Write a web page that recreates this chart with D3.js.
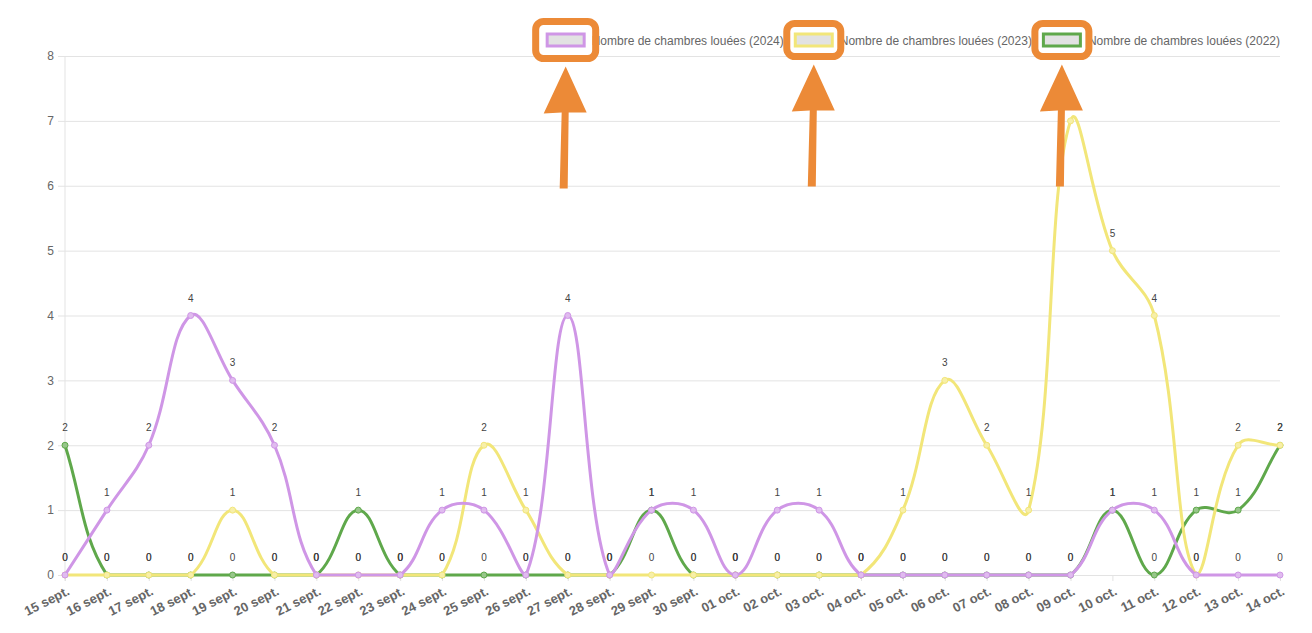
<!DOCTYPE html>
<html>
<head>
<meta charset="utf-8">
<script src="https://cdn.jsdelivr.net/npm/d3@7"></script>
<style>
  body { margin: 0; background: #fff; }
  svg { display: block; font-family: "Liberation Sans", Arial, sans-serif; }
</style>
</head>
<body>
<svg id="drawing_region"></svg>
<script>
const days = ["15 sept.", "16 sept.", "17 sept.", "18 sept.", "19 sept.", "20 sept.", "21 sept.", "22 sept.",
    "23 sept.", "24 sept.", "25 sept.", "26 sept.", "27 sept.", "28 sept.", "29 sept.", "30 sept.",
    "01 oct.", "02 oct.", "03 oct.", "04 oct.", "05 oct.", "06 oct.", "07 oct.", "08 oct.", "09 oct.",
    "10 oct.", "11 oct.", "12 oct.", "13 oct.", "14 oct."];
const rooms2024 = [0, 1, 2, 4, 3, 2, 0, 0, 0, 1, 1, 0, 4, 0, 1, 1, 0, 1, 1, 0, 0, 0, 0, 0, 0, 1, 1, 0, 0, 0];
const rooms2023 = [0, 0, 0, 0, 1, 0, 0, 0, 0, 0, 2, 1, 0, 0, 0, 0, 0, 0, 0, 0, 1, 3, 2, 1, 7, 5, 4, 0, 2, 2];
const rooms2022 = [2, 0, 0, 0, 0, 0, 0, 1, 0, 0, 0, 0, 0, 0, 1, 0, 0, 0, 0, 0, 0, 0, 0, 0, 0, 1, 0, 1, 1, 2];
const seriesNames = ["Nombre de chambres louées (2024)", "Nombre de chambres louées (2023)", "Nombre de chambres louées (2022)"];
const seriesColors = ["#cf96e6", "#f2e679", "#5fa84b"];
const yTicks = [0, 1, 2, 3, 4, 5, 6, 7, 8];

const series = [rooms2024, rooms2023, rooms2022].map((values, i) => ({
    name: seriesNames[i], color: seriesColors[i], values: values
}));

const config = {
    width: 1312, height: 633,
    margin: {top: 56, right: 32, bottom: 58, left: 65}
};

const svg = d3.select('#drawing_region')
    .attr('width', config.width)
    .attr('height', config.height);

const areaLeft = config.margin.left;
const areaRight = config.width - config.margin.right;
const areaTop = config.margin.top;

const xscale = d3.scalePoint().domain(days).range([areaLeft, areaRight]);
const yscale = d3.scaleLinear().domain([0, 8]).range([575, areaTop]);
const areaBottom = yscale(0);

// grid + y axis
const yaxis = d3.axisLeft(yscale)
    .tickValues(yTicks)
    .tickSize(-(areaRight - areaLeft))
    .tickPadding(11);
const yg = svg.append('g')
    .attr('transform', `translate(${areaLeft},0)`)
    .call(yaxis);
yg.select('.domain').remove();
yg.selectAll('.tick line').attr('stroke', '#e3e3e3').attr('x1', -7);
yg.selectAll('.tick text').attr('fill', '#666').attr('font-size', 12);

svg.append('line')
    .attr('x1', areaLeft).attr('x2', areaLeft)
    .attr('y1', areaTop).attr('y2', areaBottom + 6)
    .attr('stroke', '#e3e3e3');

// x axis labels (rotated)
const xaxis = d3.axisBottom(xscale).tickSize(6).tickPadding(4);
const xg = svg.append('g')
    .attr('transform', `translate(0,${areaBottom})`)
    .call(xaxis);
xg.select('.domain').remove();
xg.selectAll('.tick line').attr('stroke', '#e3e3e3');
xg.selectAll('.tick text')
    .attr('fill', '#666')
    .attr('font-size', 13)
    .attr('font-weight', 'bold')
    .attr('text-anchor', 'end')
    .attr('y', 0)
    .attr('dy', 0)
    .attr('transform', 'translate(5,19) rotate(-27)');

// Chart.js like spline with tension 0.4, control points capped to chart area
function splinePath(values) {
    const pts = values.map((v, i) => [xscale(days[i]), yscale(v)]);
    const t = 0.4;
    const cap = p => [Math.max(areaLeft, Math.min(areaRight, p[0])), Math.max(areaTop, Math.min(areaBottom, p[1]))];
    const ctrl = pts.map((p, i) => {
        const prev = pts[Math.max(0, i - 1)];
        const next = pts[Math.min(pts.length - 1, i + 1)];
        const d01 = Math.hypot(p[0] - prev[0], p[1] - prev[1]);
        const d12 = Math.hypot(next[0] - p[0], next[1] - p[1]);
        let s01 = d01 / (d01 + d12), s12 = d12 / (d01 + d12);
        if (isNaN(s01)) s01 = 0;
        if (isNaN(s12)) s12 = 0;
        const fa = t * s01, fb = t * s12;
        return {
            prev: cap([p[0] - fa * (next[0] - prev[0]), p[1] - fa * (next[1] - prev[1])]),
            next: cap([p[0] + fb * (next[0] - prev[0]), p[1] + fb * (next[1] - prev[1])])
        };
    });
    const path = d3.path();
    path.moveTo(pts[0][0], pts[0][1]);
    for (let i = 1; i < pts.length; i++) {
        const c1 = ctrl[i - 1].next, c2 = ctrl[i].prev;
        path.bezierCurveTo(c1[0], c1[1], c2[0], c2[1], pts[i][0], pts[i][1]);
    }
    return path.toString();
}

// draw from last dataset to first, so 2024 is on top
series.slice().reverse().forEach(s => {
    const g = svg.append('g');
    g.append('path')
        .attr('d', splinePath(s.values))
        .attr('fill', 'none')
        .attr('stroke', s.color)
        .attr('stroke-width', 3);
    g.selectAll('circle')
        .data(s.values)
        .enter()
        .append('circle')
        .attr('cx', (d, i) => xscale(days[i]))
        .attr('cy', d => yscale(d))
        .attr('r', 3)
        .attr('fill', d3.interpolateRgb(s.color, '#fff')(0.35))
        .attr('stroke', s.color)
        .attr('stroke-width', 1);
});

// value labels
series.forEach(s => {
    svg.append('g').selectAll('text')
        .data(s.values)
        .enter()
        .append('text')
        .attr('x', (d, i) => xscale(days[i]))
        .attr('y', d => yscale(d) - 14)
        .attr('text-anchor', 'middle')
        .attr('font-size', 10)
        .attr('fill', '#444')
        .text(d => d);
});

// legend, aligned to the right
const legend = svg.append('g');
const widths = seriesNames.map(name => {
    const tmp = legend.append('text').attr('font-size', 12).text(name);
    const w = tmp.node().getComputedTextLength();
    tmp.remove();
    return w;
});
let lx = areaRight;
const boxes = [];
for (let i = series.length - 1; i >= 0; i--) {
    const itemW = 40 + 6 + widths[i];
    lx -= itemW;
    boxes[i] = lx;
    const it = legend.append('g').attr('transform', `translate(${lx},34)`);
    it.append('rect')
        .attr('x', 1.5).attr('y', 0)
        .attr('width', 37).attr('height', 12)
        .attr('fill', '#e2e2e2')
        .attr('stroke', series[i].color)
        .attr('stroke-width', 3);
    it.append('text')
        .attr('x', 46).attr('y', 10.5)
        .attr('font-size', 12)
        .attr('fill', '#666')
        .text(series[i].name);
    lx -= 10;
}

// orange highlight boxes and arrows
const orange = '#ec8a37';
boxes.forEach((bx, i) => {
    const cx = bx + 20;
    const w = i === 0 ? 60 : 54, h = i === 0 ? 37 : 33;
    svg.append('rect')
        .attr('x', cx - w / 2).attr('y', 40 - h / 2)
        .attr('width', w).attr('height', h)
        .attr('rx', 8)
        .attr('fill', 'none')
        .attr('stroke', orange)
        .attr('stroke-width', 7);
    const tipY = 40 + h / 2 + 8;
    svg.append('path')
        .attr('d', `M${cx - 6},${tipY + 122} L${cx - 4},${tipY + 46} L${cx - 22},${tipY + 47} L${cx},${tipY} L${cx + 21},${tipY + 46} L${cx + 3},${tipY + 46} L${cx + 2},${tipY + 122} Z`)
        .attr('fill', orange);
});
</script>
</body>
</html>
